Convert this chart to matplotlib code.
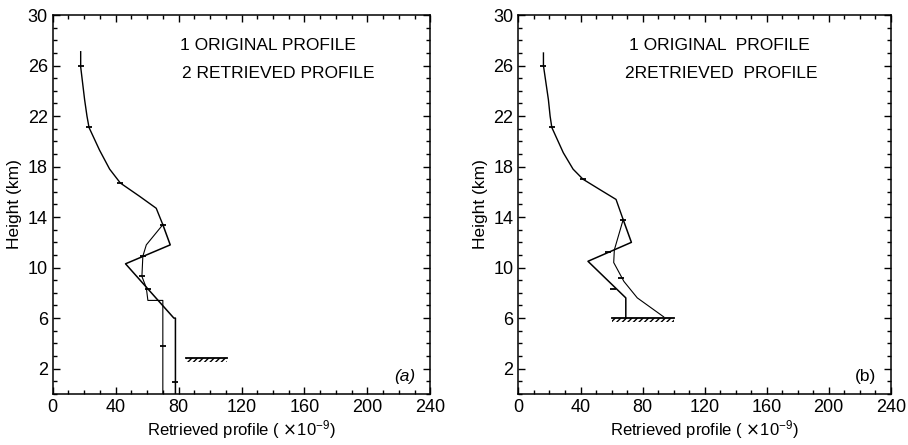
import matplotlib.pyplot as plt

plt.rcParams['font.family'] = ['Liberation Sans', 'DejaVu Sans']

# wspolna gorna czesc profilu (x, wysokosc km)
top_a_x = [17.8, 17.8, 20.3, 21.8, 23.1, 29.8, 36.2, 43.0, 55.2, 65.8, 70.0]
top_a_h = [27.1, 25.9, 23.3, 22.0, 21.1, 19.3, 17.8, 16.7, 15.65, 14.7, 13.4]
top_b_x = [16.1, 16.1, 19.3, 20.4, 21.5, 28.9, 35.2, 41.6, 52.2, 62.9, 67.5]
top_b_h = [27.0, 26.0, 23.3, 22.0, 21.1, 19.1, 17.8, 17.0, 16.2, 15.4, 13.8]

# panel (a)
lineA_a_x = [70.0, 74.7, 46.3, 77.0, 78.0, 78.0]
lineA_a_h = [13.4, 11.8, 10.3, 6.0, 6.0, 0.0]
lineB_a_x = [70.0, 59.5, 57.3, 56.7, 59.5, 60.5, 70.0, 70.0]
lineB_a_h = [13.4, 11.8, 10.9, 9.3, 8.4, 7.4, 7.4, 0.0]
mark_a_x = [17.8, 23.1, 43.0, 70.0, 57.3, 56.7, 60.5, 70.0, 78.0]
mark_a_h = [26.0, 21.1, 16.7, 13.4, 10.9, 9.3, 8.3, 3.8, 0.95]
ground_a_x = [84.9, 110.7]
ground_a_h = 2.8

# panel (b)
lineA_b_x = [67.5, 72.8, 44.8, 69.2, 69.2]
lineA_b_h = [13.8, 12.0, 10.5, 7.6, 6.0]
lineB_b_x = [67.5, 61.8, 61.4, 68.0, 76.6, 93.6]
lineB_b_h = [13.8, 11.4, 10.4, 8.9, 7.6, 6.1]
mark_b_x = [16.1, 21.5, 41.6, 67.5, 57.5, 60.7, 66.0]
mark_b_h = [26.0, 21.1, 17.0, 13.8, 11.2, 8.3, 9.2]
ground_b_x = [60.0, 100.0]
ground_b_h = 6.0

xticks = [0, 40, 80, 120, 160, 200, 240]
yticks = [2, 6, 10, 14, 18, 22, 26, 30]


def panel(ax, top_x, top_h, ax_x, ax_h, bx_x, bx_h, mx, mh, gx, gh, tag, lx1, lx2):
    ax.plot(top_x, top_h, color='k', lw=1.0)
    ax.plot(ax_x, ax_h, color='k', lw=1.1)
    ax.plot(bx_x, bx_h, color='k', lw=0.8)
    ax.plot(mx, mh, ls='none', marker='_', ms=5, mew=1.3, color='k')
    # symbol ziemi
    ax.plot(gx, [gh, gh], color='k', lw=1.3)
    ax.fill_between(gx, gh - 0.3, gh, hatch='//////', facecolor='none',
                    edgecolor='k', linewidth=0)

    ax.set_xlim(0, 240)
    ax.set_ylim(0, 30)
    ax.set_xticks(xticks)
    ax.set_yticks(yticks)
    ax.set_xticks(range(0, 241, 10), minor=True)
    ax.set_yticks(range(0, 31), minor=True)
    ax.tick_params(which='both', direction='in', top=True, right=True,
                   labelsize=13, width=1)
    ax.tick_params(which='major', length=5)
    ax.tick_params(which='minor', length=3)
    ax.tick_params(axis='x', pad=4)
    for s in ax.spines.values():
        s.set_linewidth(1.1)

    ax.set_xlabel('Retrieved profile ( $\\times\\mathregular{10^{-9}}$)', fontsize=12, labelpad=1)
    ax.set_ylabel('Height (km)', fontsize=12.5, labelpad=4)
    ax.text(lx1, 27.6, '1 ORIGINAL PROFILE' if tag == '(a)' else '1 ORIGINAL  PROFILE',
            fontsize=12.5, va='center')
    ax.text(lx2, 25.4, '2 RETRIEVED PROFILE' if tag == '(a)' else '2RETRIEVED  PROFILE',
            fontsize=12.5, va='center')
    ax.text(224, 1.4, tag, fontsize=12.5, ha='center', va='center',
            style='italic' if tag == '(a)' else 'normal')


fig = plt.figure(figsize=(9.08, 4.45), dpi=100)
ax1 = fig.add_axes([0.058, 0.115, 0.416, 0.851])
ax2 = fig.add_axes([0.571, 0.115, 0.410, 0.851])

panel(ax1, top_a_x, top_a_h, lineA_a_x, lineA_a_h, lineB_a_x, lineB_a_h,
      mark_a_x, mark_a_h, ground_a_x, ground_a_h, '(a)', 80.6, 82.3)
panel(ax2, top_b_x, top_b_h, lineA_b_x, lineA_b_h, lineB_b_x, lineB_b_h,
      mark_b_x, mark_b_h, ground_b_x, ground_b_h, '(b)', 71.3, 69.0)

fig.savefig('out.png', dpi=100)
